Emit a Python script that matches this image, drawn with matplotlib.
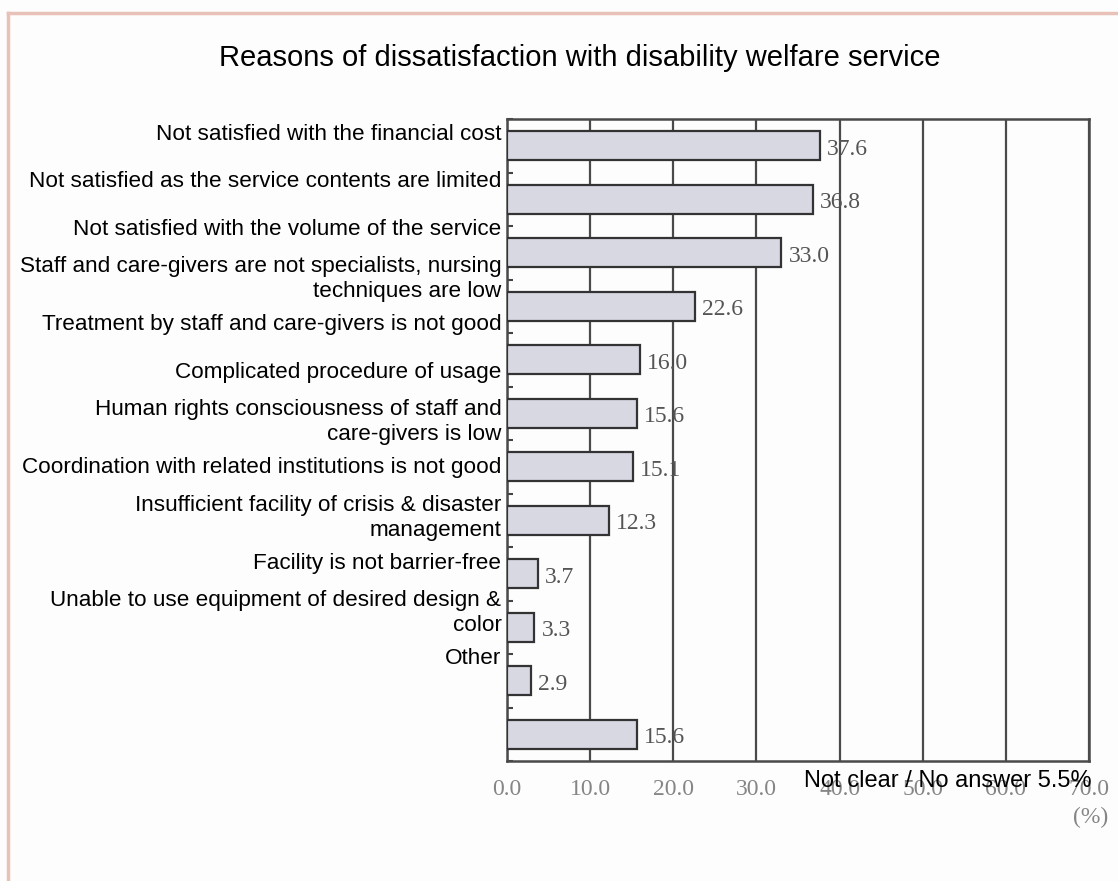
import numpy as np
import matplotlib
matplotlib.use("Agg")
import matplotlib.pyplot as plt
from matplotlib.lines import Line2D

# 数据
categories = [
    "Not satisfied with the financial cost",
    "Not satisfied as the service contents are limited",
    "Not satisfied with the volume of the service",
    "Staff and care-givers are not specialists, nursing\ntechniques are low",
    "Treatment by staff and care-givers is not good",
    "Complicated procedure of usage",
    "Human rights consciousness of staff and\ncare-givers is low",
    "Coordination with related institutions is not good",
    "Insufficient facility of crisis & disaster\nmanagement",
    "Facility is not barrier-free",
    "Unable to use equipment of desired design &\ncolor",
    "Other",
]
values = [37.6, 36.8, 33.0, 22.6, 16.0, 15.6, 15.1, 12.3, 3.7, 3.3, 2.9, 15.6]
xticks = [0, 10, 20, 30, 40, 50, 60, 70]
title = "Reasons of dissatisfaction with disability welfare service"
note = "Not clear / No answer 5.5%"

plt.rcParams['font.family'] = ['Liberation Sans', 'DejaVu Sans']

W, H = 1118, 881
fig = plt.figure(figsize=(W / 100, H / 100), dpi=100, facecolor='#fdfdfd')

# 坐标轴位置（像素）
left, right, top, bottom = 507, 1089, 119, 761
pos = [left / W, 1 - bottom / H, (right - left) / W, (bottom - top) / H]

# 左侧标签单独一层
lab = fig.add_axes(pos, frameon=False)
lab.set_ylim(13.2, -0.266)
lab.set_yticks(np.arange(len(categories)))
lab.set_yticklabels(categories, fontsize=16.2, color='black')
for t in lab.get_yticklabels():
    t.set_linespacing(1.25)
lab.tick_params(axis='y', length=0, pad=4)
lab.set_xticks([])

ax = fig.add_axes(pos)
ax.set_facecolor('none')
y = np.arange(len(values))
ax.barh(y, values, height=0.54, color='#d8d8e3', edgecolor='#333333', linewidth=1.6, zorder=3)
ax.set_ylim(len(values) - 0.5, -0.5)
ax.set_xlim(0, 70)

for yi, v in zip(y, values):
    ax.text(v + 0.85, yi + 0.07, f"{v:.1f}", va='center', ha='left',
            fontsize=17, family='Liberation Serif', color='#555555', zorder=4)

ax.set_xticks(xticks)
ax.set_xticklabels([f"{t:.1f}" for t in xticks], fontsize=17, family='Liberation Serif', color='#858585')
ax.tick_params(axis='x', length=0, pad=13)
ax.set_yticks(np.arange(-0.5, len(values), 1))
ax.set_yticklabels([])
ax.tick_params(axis='y', direction='in', length=4.5, width=1.5, color='#444444')

ax.grid(axis='x', color='#4a4a4a', linewidth=1.6)
ax.set_axisbelow(True)
for s in ax.spines.values():
    s.set_color('#4a4a4a')
    s.set_linewidth(1.8)

ax.annotate("(%)", xy=(1, 0), xycoords='axes fraction', xytext=(14, -41),
            textcoords='offset points', ha='right', va='center',
            fontsize=17, family='Liberation Serif', color='#858585')
ax.annotate(note, xy=(1, 0), xycoords='axes fraction', xytext=(2, -14.5),
            textcoords='offset points', ha='right', va='center',
            fontsize=17, color='black', zorder=5)

fig.text(580 / W, 1 - 58 / H, title, ha='center', va='center', fontsize=21)

# 外框（粉色）
fig.add_artist(Line2D([8 / W, 1], [1 - 13 / H, 1 - 13 / H], color='#e8c2b9', lw=2.5))
fig.add_artist(Line2D([8 / W, 8 / W], [0, 1 - 13 / H], color='#e8c2b9', lw=2.5))

fig.savefig("out.png", dpi=100, facecolor=fig.get_facecolor())
